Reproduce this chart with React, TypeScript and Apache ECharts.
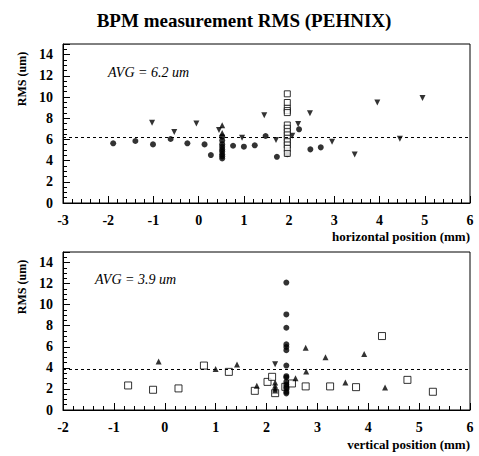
import React, { useEffect, useRef } from "react";
import * as echarts from "echarts";

const titleText = "BPM measurement RMS (PEHNIX)";
const yAxisTitle = "RMS (um)";
const xTitleTop = "horizontal position (mm)";
const xTitleBottom = "vertical position (mm)";
const avgTop = 6.2;
const avgBottom = 3.9;

// Top panel (horizontal position)
const hCircles: number[][] = [
  [-1.89, 5.63], [-1.4, 5.85], [-1.01, 5.53], [-0.62, 6.04], [-0.25, 5.63],
  [0.13, 5.53], [0.27, 4.52], [0.52, 6.26], [0.52, 5.9], [0.52, 5.55],
  [0.52, 5.3], [0.52, 5.05], [0.52, 4.85], [0.52, 4.6], [0.52, 4.4],
  [0.52, 4.2], [0.76, 5.4], [1.0, 5.31], [1.24, 5.44], [1.48, 6.32],
  [1.73, 4.36], [1.96, 4.6], [2.22, 6.95], [2.47, 5.06], [2.7, 5.25],
];
const hTriDown: number[][] = [
  [-1.03, 7.58], [-0.54, 6.7], [-0.05, 7.49], [0.45, 6.89], [0.96, 6.16],
  [1.45, 8.28], [1.71, 5.94], [2.07, 6.35], [2.2, 7.46], [2.46, 8.47],
  [2.95, 5.78], [3.45, 4.58], [3.95, 9.48], [4.45, 6.07], [4.95, 9.9],
];
const hTriUp: number[][] = [
  [0.52, 7.33], [0.52, 6.6],
];
const hSquares: number[][] = [
  [1.96, 10.3], [1.96, 9.48], [1.96, 8.94], [1.96, 8.72], [1.96, 8.53],
  [1.96, 7.36], [1.96, 7.05], [1.96, 6.73], [1.96, 6.42], [1.96, 6.1],
  [1.96, 5.78], [1.96, 5.47], [1.96, 5.15], [1.96, 4.68],
];

// Bottom panel (vertical position)
const vSquares: number[][] = [
  [-0.72, 2.33], [-0.23, 1.92], [0.27, 2.05], [0.77, 4.22], [1.26, 3.62],
  [1.77, 1.82], [2.02, 2.67], [2.11, 3.15], [2.17, 1.6], [2.37, 2.2],
  [2.5, 2.52], [2.77, 2.24], [3.25, 2.24], [3.76, 2.17], [4.27, 7.02],
  [4.77, 2.86], [5.27, 1.73],
];
const vTriUp: number[][] = [
  [-0.12, 4.6], [1.0, 3.9], [1.42, 4.31], [1.81, 2.3], [2.17, 2.6],
  [2.17, 2.3], [2.17, 2.05], [2.17, 1.85], [2.57, 3.02], [2.77, 5.92],
  [2.78, 3.65], [3.16, 5.0], [3.55, 2.61], [3.92, 5.32], [4.33, 2.14],
];
const vTriDown: number[][] = [[2.17, 4.35]];
const vCircles: number[][] = [
  [2.39, 12.1], [2.39, 9.07], [2.39, 7.81], [2.39, 6.23], [2.39, 5.98],
  [2.39, 5.67], [2.39, 4.22], [2.39, 3.21], [2.39, 3.09], [2.39, 2.67],
  [2.39, 2.42], [2.39, 2.2], [2.39, 2.05], [2.39, 1.73], [2.39, 1.58],
];

const FONT = "Liberation Serif";

function xAxisCfg(gridIndex: number, min: number) {
  return {
    type: "value",
    gridIndex,
    min,
    max: 6,
    interval: 1,
    axisLine: { show: true, onZero: false, lineStyle: { color: "#000", width: 1 } },
    axisTick: { show: true, inside: true, length: 7, lineStyle: { color: "#000" } },
    minorTick: { show: true, splitNumber: 5, length: 4, lineStyle: { color: "#000" } },
    splitLine: { show: false },
    minorSplitLine: { show: false },
    axisLabel: { color: "#000", fontFamily: FONT, fontWeight: "bold", fontSize: 14, margin: 10 },
  };
}

function yAxisCfg(gridIndex: number) {
  return {
    type: "value",
    gridIndex,
    min: 0,
    max: 15,
    interval: 2,
    axisLine: { show: true, onZero: false, lineStyle: { color: "#000", width: 1 } },
    axisTick: { show: true, inside: true, length: 7, lineStyle: { color: "#000" } },
    minorTick: { show: true, splitNumber: 4, length: 4, lineStyle: { color: "#000" } },
    splitLine: { show: false },
    minorSplitLine: { show: false },
    axisLabel: { color: "#000", fontFamily: FONT, fontWeight: "bold", fontSize: 14, margin: 10, showMaxLabel: false },
  };
}

const circleStyle = { color: "#000" };
const squareStyle = { color: "#fff", borderColor: "#000", borderWidth: 1 };

function sc(data: number[][], idx: number, symbol: string, size: number, style: any, rotate = 0, avg?: number) {
  const s: any = {
    type: "scatter",
    xAxisIndex: idx,
    yAxisIndex: idx,
    data,
    symbol,
    symbolSize: size,
    symbolRotate: rotate,
    itemStyle: style,
    silent: true,
  };
  if (avg !== undefined) {
    s.markLine = {
      silent: true,
      symbol: ["none", "none"],
      label: { show: false },
      lineStyle: { color: "#000", type: [3, 3], width: 1 },
      data: [{ yAxis: avg }],
    };
  }
  return s;
}

function txt(x: number, y: number, text: string, size: number, weight: string, style: string, align: string, rotation = 0) {
  return {
    type: "text",
    x,
    y,
    rotation,
    style: {
      text,
      fontFamily: FONT,
      fontSize: size,
      fontWeight: weight,
      fontStyle: style,
      fill: "#000",
      textAlign: align,
      textVerticalAlign: "middle",
    },
  };
}

export default function App() {
  const ref = useRef<HTMLDivElement>(null);
  useEffect(() => {
    if (!ref.current) return;
    const chart = echarts.init(ref.current, null, { renderer: "svg" });
    chart.setOption({
      animation: false,
      backgroundColor: "#fff",
      title: {
        text: titleText,
        left: 239,
        top: 6,
        textAlign: "center",
        textStyle: { fontFamily: FONT, fontWeight: "bold", fontSize: 19, color: "#000" },
      },
      grid: [
        { left: 63, right: 9, top: 44, height: 159, show: true, borderColor: "#000", borderWidth: 1, backgroundColor: "transparent" },
        { left: 63, right: 9, top: 252, height: 158, show: true, borderColor: "#000", borderWidth: 1, backgroundColor: "transparent" },
      ],
      xAxis: [xAxisCfg(0, -3), xAxisCfg(1, -2)],
      yAxis: [yAxisCfg(0), yAxisCfg(1)],
      graphic: [
        txt(22, 79, yAxisTitle, 12, "bold", "normal", "center", Math.PI / 2),
        txt(22, 287, yAxisTitle, 12, "bold", "normal", "center", Math.PI / 2),
        txt(470, 236, xTitleTop, 13, "bold", "normal", "right"),
        txt(470, 444, xTitleBottom, 13, "bold", "normal", "right"),
        txt(108, 72, `AVG = ${avgTop} um`, 14, "normal", "italic", "left"),
        txt(95, 279, `AVG = ${avgBottom} um`, 14, "normal", "italic", "left"),
      ],
      series: [
        sc(hCircles, 0, "circle", 6, circleStyle, 0, avgTop),
        sc(hTriDown, 0, "triangle", 6, circleStyle, 180),
        sc(hTriUp, 0, "triangle", 6, circleStyle),
        sc(hSquares, 0, "rect", 6, squareStyle),
        sc(vSquares, 1, "rect", 7, squareStyle, 0, avgBottom),
        sc(vTriUp, 1, "triangle", 6, circleStyle),
        sc(vTriDown, 1, "triangle", 6, circleStyle, 180),
        sc(vCircles, 1, "circle", 6, circleStyle),
      ],
    });
    return () => chart.dispose();
  }, []);
  return <div ref={ref} style={{ position: "fixed", left: 0, top: 0, width: 479, height: 456 }} />;
}
